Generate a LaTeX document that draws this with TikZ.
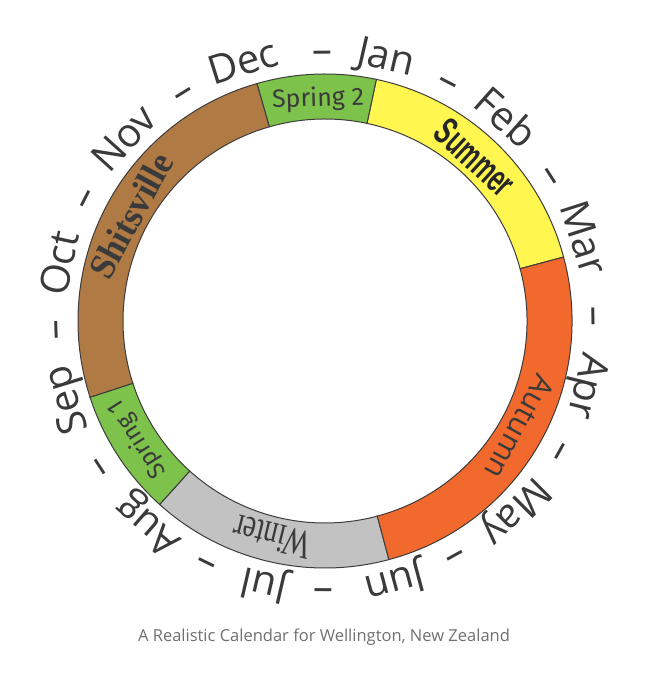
\documentclass[tikz,border=0pt]{standalone}
\usepackage{graphicx}
\usepackage{fontspec}
\setmainfont{Open Sans}
\newfontfamily\monthfont{Open Sans}
\newfontfamily\shitfont{Liberation Serif}
\newfontfamily\springfont{Fira Sans}
\newfontfamily\summerfont{Liberation Sans}
\newfontfamily\autumnfont{Open Sans}
\newfontfamily\winterfont{Liberation Serif}
\definecolor{ringline}{HTML}{3C3C3C}
\definecolor{txt}{HTML}{3A3A3A}
\definecolor{capgray}{HTML}{707070}
\definecolor{cyellow}{HTML}{FFF650}
\definecolor{cgreen}{HTML}{7DC24B}
\definecolor{cbrown}{HTML}{B07A45}
\definecolor{corange}{HTML}{F2692E}
\definecolor{cgray}{HTML}{C2C2C2}
\tikzset{
  segline/.style={draw=ringline, line width=1pt},
  monthlabel/.style={inner sep=0pt, anchor=base, text=txt, font=\monthfont\fontsize{40}{40}\selectfont},
  seasonlabel/.style={inner sep=0pt, anchor=center, text=txt},
  captionlabel/.style={inner sep=0pt, anchor=base, text=capgray, font=\fontsize{16.5}{16.5}\selectfont}
}
\newcommand\ringseg[3]{%
  \filldraw[segline, fill=#3] (#1:247) arc[start angle=#1, end angle=#2, radius=247]
    -- (#2:202) arc[start angle=#2, end angle=#1, radius=202] -- cycle;}
\begin{document}
\begin{tikzpicture}[x=1pt,y=1pt]
\useasboundingbox (0,0) rectangle (648,680);
\fill[white] (0,0) rectangle (648,680);
\begin{scope}[shift={(325,359)}]
  \ringseg{15}{78}{cyellow}
  \ringseg{78}{106}{cgreen}
  \ringseg{106}{198}{cbrown}
  \ringseg{198}{228}{cgreen}
  \ringseg{228}{285}{cgray}
  \ringseg{285}{375}{corange}
  % months
  \foreach \a/\m [count=\i] in {77/Jan,48.4/Feb,17.8/Mar,-14/Apr,-45/May,-75/Jun,-103/Jul,-131/Aug,-163/Sep,-192.3/Oct,-222.2/Nov,-252.5/Dec}
    \node[monthlabel, rotate=\a-90] (m\i) at (\a:258) {\m};
  \foreach \a [count=\i] in {90.6,62.7,32.7,0.9,-29,-61,-90.4,-116,-147,-178,152.9,121.9}
    \node[monthlabel, rotate=\a-90] (d\i) at (\a:258) {\textendash};
  % seasons
  \node[seasonlabel, rotate=61.5, font=\shitfont\bfseries\fontsize{37}{37}\selectfont] (shits) at (151.5:221) {\scalebox{0.95}[1]{Shitsville}};
  \node[seasonlabel, rotate=1.8, font=\springfont\fontsize{25}{25}\selectfont] (spring2) at (91.8:222) {Spring 2};
  \node[seasonlabel, rotate=-42.6, text=black!85, font=\summerfont\bfseries\fontsize{39}{39}\selectfont] (summer) at (47.4:222) {\scalebox{0.6}[1]{Summer}};
  \node[seasonlabel, rotate=-118.6, font=\autumnfont\fontsize{30}{30}\selectfont] (autumn) at (-28.6:222) {Autumn};
  \node[seasonlabel, rotate=-193.8, font=\winterfont\fontsize{41}{41}\selectfont] (winter) at (-103.8:222) {\scalebox{0.7}[1]{Winter}};
  \node[seasonlabel, rotate=122.2, font=\springfont\fontsize{24}{24}\selectfont] (spring1) at (212.2:222) {Spring 1};
\end{scope}
\node[captionlabel] (cap) at (324,38) {A Realistic Calendar for Wellington, New Zealand};
\end{tikzpicture}
\end{document}
